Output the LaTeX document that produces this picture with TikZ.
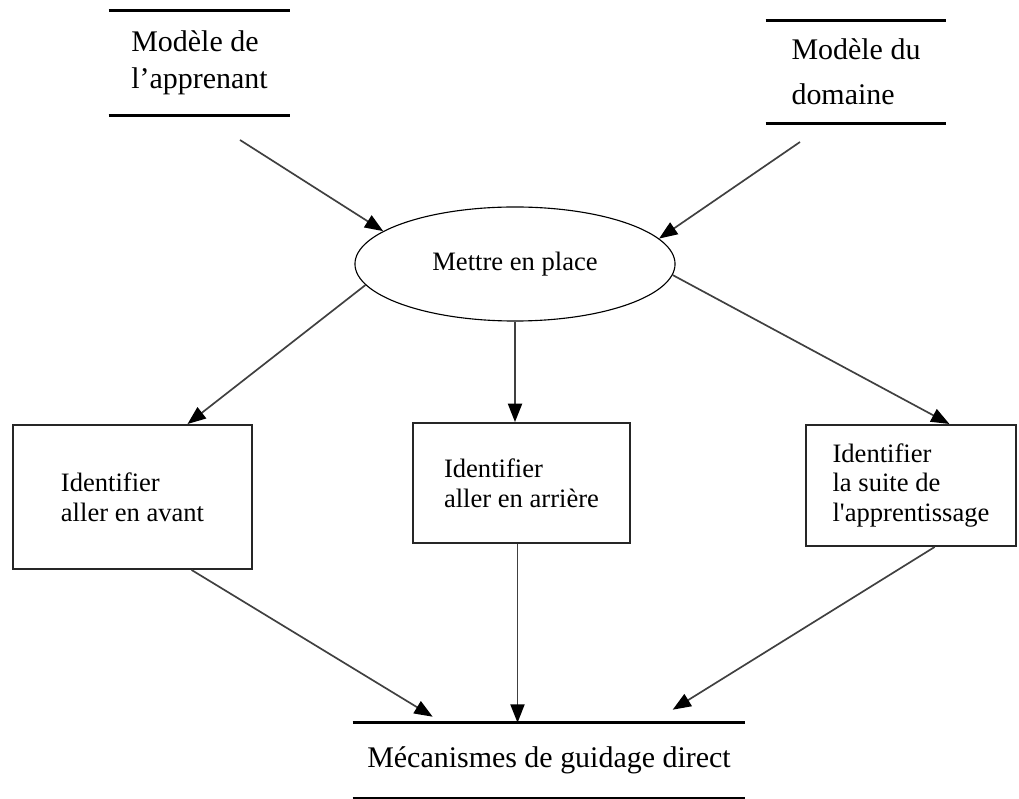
\documentclass[tikz,border=0pt]{standalone}
\usepackage{fontspec}
\setmainfont{Liberation Serif}
\usepackage{tikz}
\usetikzlibrary{shapes,arrows,positioning,calc,arrows.meta}

\tikzset{
  store/.style={rectangle, inner sep=0pt, align=left, font=\fontsize{21.3}{26.3}\selectfont},
  storeline/.style={line width=2.2pt},
  activity/.style={ellipse, draw, line width=0.8pt, inner sep=0pt, minimum width=8cm, minimum height=2.85cm, font=\fontsize{18.9}{21.3}\selectfont},
  process/.style={rectangle, draw=black!85, line width=1.4pt, inner sep=0pt, align=left, font=\fontsize{18.9}{21.3}\selectfont},
  flow/.style={draw=black!75, line width=1.2pt, -{Triangle[length=13pt,width=10pt,color=black]}}
}

\begin{document}
\begin{tikzpicture}[x=0.025cm,y=-0.025cm]
    \useasboundingbox (0,0) rectangle (1019,799);

    % Models
    \node[store, minimum width=4.525cm, minimum height=2.6cm] (apprenant) at (199.5,63) {Modèle de\\l’apprenant};
    \draw[storeline] (apprenant.north west) -- (apprenant.north east);
    \draw[storeline] (apprenant.south west) -- (apprenant.south east);

    \node[store, minimum width=4.5cm, minimum height=2.55cm, font=\fontsize{21.3}{32}\selectfont] (domaine) at (856,72) {Modèle du\\domaine};
    \draw[storeline] (domaine.north west) -- (domaine.north east);
    \draw[storeline] (domaine.south west) -- (domaine.south east);

    % Setting up
    \node[activity] (mettre) at (515,264) {Mettre en place};

    % Identification
    \node[process, minimum width=5.975cm, minimum height=3.6cm] (avant) at (132.5,497) {Identifier\\aller en avant};
    \node[process, minimum width=5.425cm, minimum height=3cm] (arriere) at (521.5,483) {Identifier\\aller en arrière};
    \node[process, minimum width=5.25cm, minimum height=3.025cm] (suite) at (911,485.5) {Identifier\\la suite de\\l\textquotesingle apprentissage};

    % Guidance
    \node[store, minimum width=9.8cm, minimum height=1.875cm] (guidage) at (549,760.5) {Mécanismes de guidage direct};
    \draw[storeline] (guidage.north west) -- (guidage.north east);
    \draw[storeline] (guidage.south west) -- (guidage.south east);

    % Arrows
    \coordinate (apprenantOut) at (240,140);
    \coordinate (domaineOut) at (800,142);
    \draw[flow] (apprenantOut) -- (mettre.166);
    \draw[flow] (domaineOut) -- (mettre.10);
    \draw[flow] (mettre.188) -- (avant.53);
    \draw[flow] (mettre.south) -- (mettre.south |- arriere.north);
    \draw[flow] (mettre.356) -- (suite.58);
    \draw[flow] (avant.309) -- ($(guidage.north west)+(80,-6)$);
    \draw[flow] ($(arriere.south)+(-4,0)$) -- ($(arriere.south |- guidage.north)+(-4,0)$);
    \draw[flow] (suite.291) -- ($(guidage.north west)+(320,-13)$);
\end{tikzpicture}
\end{document}
